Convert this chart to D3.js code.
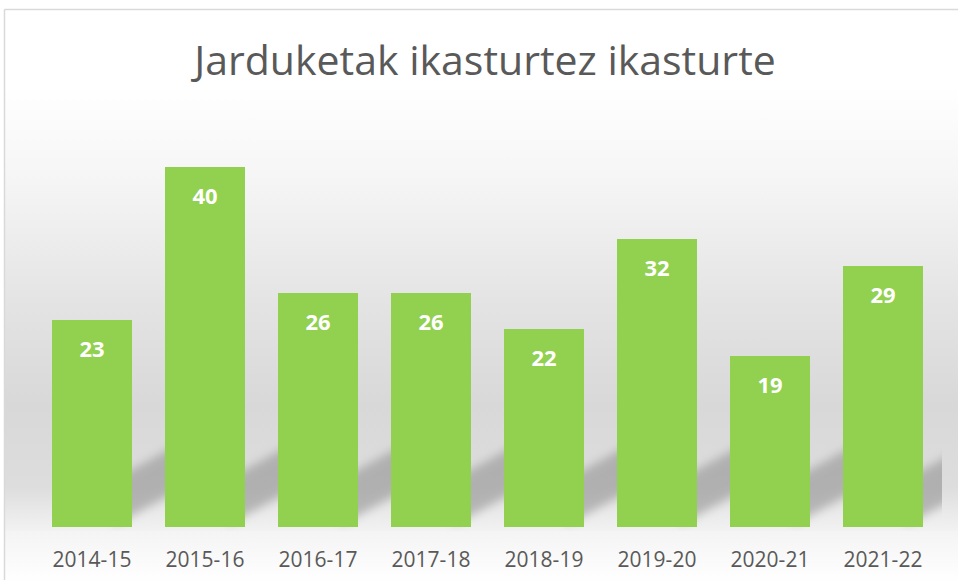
<!DOCTYPE html>
<html>
<head>
<meta charset="utf-8">
<script src="https://cdn.jsdelivr.net/npm/d3@7"></script>
<style>
    body { margin: 0; background: #fff; }
    svg { display: block; }
</style>
</head>
<body>
<div id="chart"></div>
<script>
(function () {
    const TITLE = "Jarduketak ikasturtez ikasturte";
    const YEARS = ["2014-15", "2015-16", "2016-17", "2017-18", "2018-19", "2019-20", "2020-21", "2021-22"];
    const VALUES = [23, 40, 26, 26, 22, 32, 19, 29];
    const Y_MAX = 45;

    const w = 958;
    const h = 583;
    const base = 527;

    const svg = d3.select("#chart")
        .append("svg")
        .attr("width", w)
        .attr("height", h);

    const defs = svg.append("defs");

    const bg = defs.append("linearGradient")
        .attr("id", "bg")
        .attr("x1", 0).attr("y1", 0)
        .attr("x2", 0).attr("y2", 1);
    [[0, "#ffffff"], [0.2, "#f6f6f6"], [0.5, "#e3e3e3"], [0.72, "#d8d8d8"], [0.9, "#dddddd"], [1, "#f2f2f2"]]
        .forEach(s => bg.append("stop").attr("offset", s[0]).attr("stop-color", s[1]));

    const floor = defs.append("linearGradient")
        .attr("id", "floor")
        .attr("x1", 0).attr("y1", 0)
        .attr("x2", 0).attr("y2", 1);
    [[0, "#f4f4f4"], [1, "#ffffff"]]
        .forEach(s => floor.append("stop").attr("offset", s[0]).attr("stop-color", s[1]));

    defs.append("filter")
        .attr("id", "blur")
        .attr("x", "-50%").attr("y", "-50%")
        .attr("width", "200%").attr("height", "200%")
        .append("feGaussianBlur")
        .attr("stdDeviation", 5);

    defs.append("clipPath")
        .attr("id", "plotclip")
        .append("rect")
        .attr("x", 5).attr("y", 90)
        .attr("width", 937).attr("height", base + 4 - 90);

    // chart area background
    svg.append("rect")
        .attr("x", 5).attr("y", 85)
        .attr("width", w - 5).attr("height", base + 4 - 85)
        .attr("fill", "url(#bg)");
    svg.append("rect")
        .attr("x", 5).attr("y", base + 4)
        .attr("width", w - 5).attr("height", h - base - 4)
        .attr("fill", "url(#floor)");

    // frame
    svg.append("line")
        .attr("x1", 4.5).attr("y1", 9.5)
        .attr("x2", w).attr("y2", 9.5)
        .attr("stroke", "#d9d9d9").attr("stroke-width", 1.5);
    svg.append("line")
        .attr("x1", 4.5).attr("y1", 9.5)
        .attr("x2", 4.5).attr("y2", 580)
        .attr("stroke", "#d9d9d9").attr("stroke-width", 1.5);

    const xScale = d3.scaleBand()
        .domain(YEARS)
        .range([35.5, 939.5])
        .paddingInner(0.292)
        .paddingOuter(0.146);

    const yScale = d3.scaleLinear()
        .domain([0, Y_MAX])
        .range([base, base - 405]);

    const data = YEARS.map((y, i) => ({ year: y, value: VALUES[i] }));
    const bw = xScale.bandwidth();

    // perspective shadows behind the bars
    const shift = 63, slope = 0.55, thick = 46;
    svg.append("g")
        .attr("clip-path", "url(#plotclip)")
        .selectAll("polygon")
        .data(data)
        .enter()
        .append("polygon")
        .attr("points", d => {
            const x0 = xScale(d.year) + shift;
            const x1 = x0 + bw;
            const t = Math.min(thick, base - yScale(d.value));
            return [
                [x0, base - 2],
                [x1, base - 2 - slope * bw],
                [x1, base - 2 - slope * bw - t],
                [x0, base - 2 - t]
            ].map(p => p.join(",")).join(" ");
        })
        .attr("fill", "#8c8c8c")
        .attr("opacity", 0.55)
        .attr("filter", "url(#blur)");

    svg.append("g")
        .selectAll("rect")
        .data(data)
        .enter()
        .append("rect")
        .attr("x", d => xScale(d.year))
        .attr("y", d => yScale(d.value))
        .attr("width", bw)
        .attr("height", d => base - yScale(d.value))
        .attr("fill", "#92d050");

    svg.append("g")
        .selectAll("text")
        .data(data)
        .enter()
        .append("text")
        .attr("x", d => xScale(d.year) + bw / 2)
        .attr("y", d => yScale(d.value) + 36.5)
        .attr("text-anchor", "middle")
        .attr("font-family", "'Open Sans', sans-serif")
        .attr("font-weight", "bold")
        .attr("font-size", 22)
        .attr("fill", "#ffffff")
        .text(d => d.value);

    const xAxis = svg.append("g")
        .attr("transform", `translate(0,${base})`)
        .call(d3.axisBottom(xScale).tickSize(0).tickPadding(0));
    xAxis.select(".domain").remove();
    xAxis.selectAll("text")
        .attr("y", 40)
        .attr("dy", 0)
        .attr("font-family", "'Open Sans', sans-serif")
        .attr("font-size", 21)
        .attr("fill", "#595959");

    svg.append("text")
        .attr("x", 485)
        .attr("y", 75)
        .attr("text-anchor", "middle")
        .attr("font-family", "'Open Sans', sans-serif")
        .attr("font-size", 41)
        .attr("fill", "#595959")
        .text(TITLE);
})()
</script>
</body>
</html>
